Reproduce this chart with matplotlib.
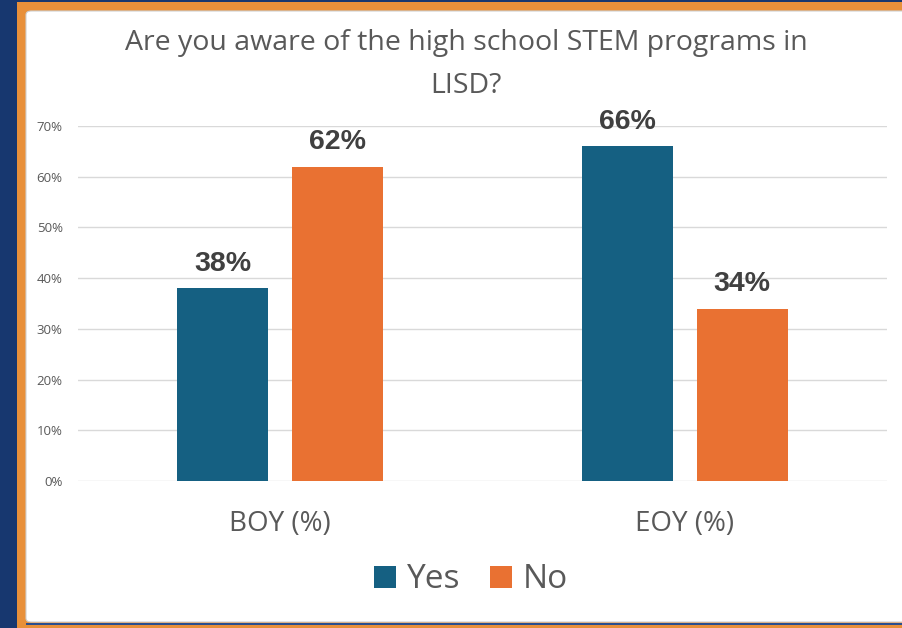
import numpy as np
import matplotlib
matplotlib.use("Agg")
import matplotlib.pyplot as plt
from matplotlib.patches import Rectangle, FancyBboxPatch

# data
categories = ["BOY (%)", "EOY (%)"]
yes_vals = [0.38, 0.66]
no_vals = [0.62, 0.34]
series_names = ["Yes", "No"]
y_ticks = [0, 0.1, 0.2, 0.3, 0.4, 0.5, 0.6, 0.7]
y_tick_labels = ["0%", "10%", "20%", "30%", "40%", "50%", "60%", "70%"]
title_lines = ["Are you aware of the high school STEM programs in", "LISD?"]

W, H = 902, 628
navy = "#17376F"
border_orange = "#E8903A"
c_yes = "#156082"
c_no = "#E97132"
grey_txt = "#595959"

fig = plt.figure(figsize=(W / 100, H / 100), dpi=100, facecolor=navy)

def px(x, y):
    # pixel (from top-left) -> figure fraction
    return x / W, 1 - y / H

# frame: orange border, white panel, thin navy line at bottom (behind the axes)
fig.patches.append(Rectangle(px(17, 628), (W - 17) / W, 626 / H,
                             transform=fig.transFigure, facecolor=border_orange,
                             edgecolor="none", zorder=-10))
fig.patches.append(Rectangle(px(26, 624.5), (W - 26) / W, 2 / H,
                             transform=fig.transFigure, facecolor="#2A4F8F",
                             edgecolor="none", zorder=-9))
fig.patches.append(FancyBboxPatch(px(26, 622), (W - 20) / W, 611 / H,
                                  boxstyle="round,pad=0,rounding_size=0.006",
                                  transform=fig.transFigure, facecolor="white",
                                  edgecolor="#CFCFCF", linewidth=0.8, zorder=-8))

left, bottom = px(78, 481)
ax = fig.add_axes([left, bottom, 809 / W, 355 / H])
ax.set_facecolor("none")

x = np.arange(len(categories))
bw = 0.225
off = 0.142
b1 = ax.bar(x - off, yes_vals, bw, color=c_yes, label=series_names[0], zorder=3)
b2 = ax.bar(x + off, no_vals, bw, color=c_no, label=series_names[1], zorder=3)

for bars, vals in ((b1, yes_vals), (b2, no_vals)):
    for rect, v in zip(bars, vals):
        ax.annotate(f"{round(v * 100)}%", (rect.get_x() + rect.get_width() / 2, v),
                    xytext=(0, 12.7), textcoords="offset points",
                    ha="center", va="baseline", fontsize=20.5, fontweight="bold",
                    family="Liberation Sans", color="#404040", clip_on=False)

ax.set_xlim(-0.5, 1.5)
ax.set_ylim(0, 0.7)
ax.set_yticks(y_ticks)
ax.set_yticklabels(y_tick_labels, family="Open Sans", fontsize=9.5, color=grey_txt)
ax.set_xticks(x)
ax.set_xticklabels(categories, family="Open Sans", fontsize=20, color=grey_txt)
ax.tick_params(axis="y", length=0, pad=11)
ax.tick_params(axis="x", length=0, pad=21)
ax.grid(axis="y", color="#D9D9D9", linewidth=1, zorder=0)
for s in ax.spines.values():
    s.set_visible(False)

# title, two centred lines
tx, ty1 = px(466, 50)
_, ty2 = px(466, 93)
fig.text(tx, ty1, title_lines[0], ha="center", va="baseline",
         family="Open Sans", fontsize=20.5, color=grey_txt)
fig.text(tx, ty2, title_lines[1], ha="center", va="baseline",
         family="Open Sans", fontsize=20.5, color=grey_txt)

lx, ly = px(471, 580)
fig.legend(handles=[b1, b2], labels=series_names, loc="center",
           bbox_to_anchor=(lx, ly), ncol=2, frameon=False,
           prop={"family": "Open Sans", "size": 24}, labelcolor=grey_txt,
           handlelength=0.65, handleheight=0.65, handletextpad=0.33,
           columnspacing=0.9)

fig.savefig("out.png", dpi=100, facecolor=navy)
